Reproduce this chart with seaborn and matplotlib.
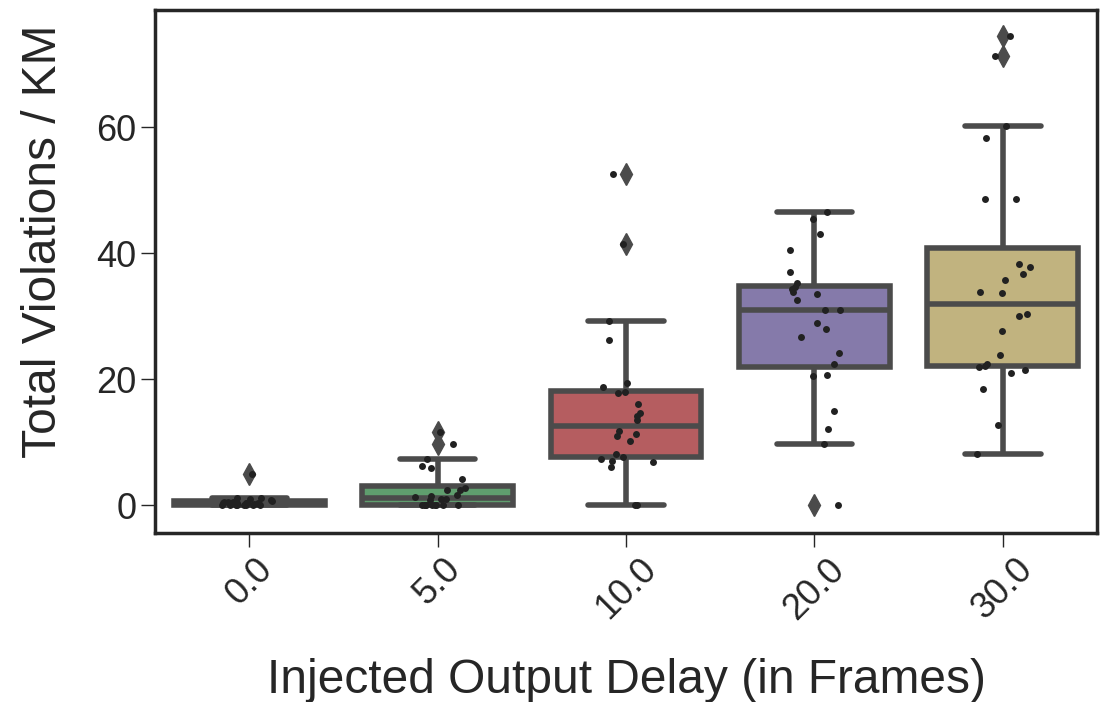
import numpy as np
import pandas as pd
import matplotlib
matplotlib.use("Agg")
import matplotlib.pyplot as plt
import seaborn as sns

categories = ["0.0", "5.0", "10.0", "20.0", "30.0"]

delay_0 = [4.9, 1.2, 1.1, 1.0, 0.8, 0.7, 0.6, 0.5, 0.5, 0.4, 0.4, 0.3,
           0.3, 0.3, 0.2, 0.2, 0.1, 0.1, 0.0, 0.0, 0.0, 0.0, 0.0, 0.0]
delay_5 = [11.6, 9.7, 7.3, 6.3, 5.9, 4.1, 2.7, 2.4, 2.4, 1.6, 1.4, 1.3,
           1.0, 1.0, 0.9, 0.0, 0.0, 0.0, 0.0, 0.0, 0.0, 0.0, 0.0, 0.0]
delay_10 = [52.5, 41.4, 29.2, 26.2, 19.4, 18.7, 17.9, 17.8, 16.0, 14.7, 14.2, 13.5,
            11.8, 11.3, 11.0, 10.2, 8.2, 7.7, 7.4, 7.0, 6.8, 6.1, 0.0, 0.0]
delay_20 = [46.5, 45.5, 43.0, 40.5, 37.0, 35.3, 34.6, 34.3, 33.8, 33.5, 32.5, 31.0,
            31.0, 28.9, 27.9, 26.7, 24.1, 22.4, 20.6, 20.5, 14.9, 12.1, 9.7, 0.0]
delay_30 = [74.4, 71.3, 60.2, 58.3, 48.6, 48.6, 38.3, 37.8, 36.7, 35.7, 33.8, 33.7,
            30.3, 30.0, 27.6, 23.9, 22.4, 22.1, 21.9, 21.4, 21.0, 18.4, 12.8, 8.1]

series = [delay_0, delay_5, delay_10, delay_20, delay_30]
box_colors = ["#4C72B0", "#55A868", "#C44E52", "#8172B2", "#CCB974"]

df = pd.DataFrame({
    "delay": np.repeat(categories, [len(s) for s in series]),
    "value": np.concatenate(series),
})

sns.set_theme(style="ticks")
plt.rcParams["font.family"] = ["Liberation Sans", "DejaVu Sans"]

fig = plt.figure(figsize=(11.02, 7.02), dpi=100)
ax = fig.add_axes([0.1407, 0.2407, 0.9955 - 0.1407, 0.9858 - 0.2407])

line_c = "#4b4b4b"
sns.boxplot(data=df, x="delay", y="value", order=categories, hue="delay",
            hue_order=categories, palette=box_colors, legend=False,
            linewidth=4, linecolor=line_c, width=0.8, ax=ax,
            flierprops=dict(marker="d", markersize=11, markerfacecolor=line_c,
                            markeredgecolor=line_c))
np.random.seed(3)
sns.stripplot(data=df, x="delay", y="value", order=categories, color="0.13",
              size=5, jitter=0.15, ax=ax)

ax.set_ylim(-4.4, 78.6)
ax.set_xlim(-0.5, 4.5)
ax.set_yticks([0, 20, 40, 60])
ax.set_xlabel("Injected Output Delay (in Frames)", fontsize=34.5, color="#262626",
              labelpad=23)
ax.set_ylabel("Total Violations / KM", fontsize=34.5, color="#262626")
ax.yaxis.set_label_coords(-0.0945, 0.558)
ax.tick_params(axis="both", labelsize=26, length=10, width=1, colors="#262626")
plt.setp(ax.get_xticklabels(), rotation=45)
for sp in ax.spines.values():
    sp.set_linewidth(2.5)
    sp.set_color("#262626")

fig.savefig("out.png", dpi=100)
